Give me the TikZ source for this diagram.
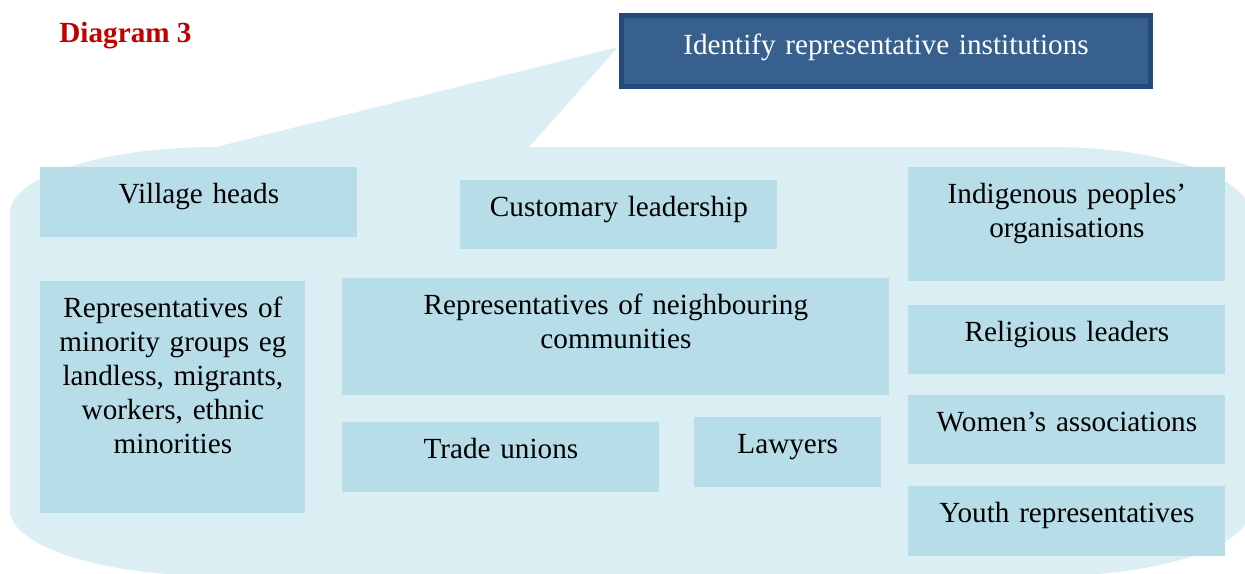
\documentclass[tikz,border=0pt]{standalone}
\usepackage{fontspec}
\setmainfont{Liberation Serif}
\usepackage{xcolor}
\usetikzlibrary{positioning}

\definecolor{calloutfill}{HTML}{DAEEF3}
\definecolor{cellfill}{HTML}{B7DDE8}
\definecolor{goalfill}{HTML}{37608F}
\definecolor{goalline}{HTML}{244A7C}
\definecolor{titlered}{HTML}{C00000}

\newcommand{\cellfont}{\fontsize{14.6}{17}\selectfont}

\begin{document}
\begin{tikzpicture}[x=0.5pt, y=-0.5pt]
    % Styles
    \tikzstyle{cell} = [fill=cellfill, inner sep=0pt, align=center, text width=158.5pt, text height=18.25pt, text depth=16.75pt, font=\cellfont]
    \tikzstyle{goalbox} = [fill=goalfill, draw=goalline, line width=2.5pt, inner sep=0pt, align=center, text width=264.5pt, text height=19.25pt, text depth=16.25pt, text=white, font=\cellfont]
    \tikzstyle{callout} = [fill=calloutfill]

    \useasboundingbox (0,0) rectangle (1245,573);
    \clip (0,0) rectangle (1245,573);

    % Speech bubble behind the boxes
    \fill [callout] (618,47) -- (529,147) -- (1050,147)
        .. controls (1160,147) and (1250,177) .. (1250,213) -- (1250,510)
        .. controls (1250,546) and (1160,576) .. (1050,576) -- (216,576)
        .. controls (102,576) and (10,546) .. (10,510) -- (10,213)
        .. controls (10,177) and (102,147) .. (216,147) -- cycle;

    % Nodes
    \node [anchor=base west, inner sep=0pt, font=\cellfont\bfseries, text=titlered] (title) at (59,42) {Diagram 3};
    \node [goalbox] (ident) at (886,51) {Identify representative institutions};

    \node [cell, anchor=north west] (village) at (40,167) {Village heads};
    \node [cell, anchor=north west, text depth=16.25pt] (customary) at (460,180) {Customary leadership};
    \node [cell, anchor=north west, text depth=38.75pt] (indigenous) at (908,167) {Indigenous peoples’\\organisations};
    \node [cell, below=11.5pt of indigenous, text depth=16.25pt] (religious) {Religious leaders};
    \node [cell, below=10pt of religious, text depth=16.25pt] (women) {Women’s associations};
    \node [cell, below=10.5pt of women] (youth) {Youth representatives};

    \node [cell, anchor=north west, text width=132.5pt, text depth=97.75pt] (minority) at (40,281) {Representatives of\\minority groups eg\\landless, migrants,\\workers, ethnic\\minorities};
    \node [cell, anchor=north west, text width=273.5pt, text depth=40.25pt] (neighbours) at (342,278) {Representatives of neighbouring\\communities};
    \node [cell, below=13pt of neighbours.south west, anchor=north west] (trade) {Trade unions};
    \node [cell, right=17pt of trade, yshift=2.5pt, text width=93.5pt] (lawyers) {Lawyers};
\end{tikzpicture}
\end{document}
